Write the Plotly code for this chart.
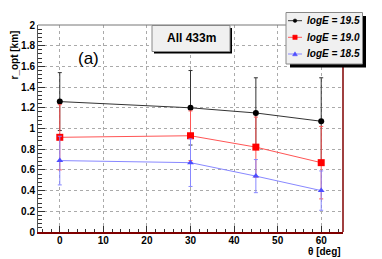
import plotly.graph_objects as go

theta = [0, 30, 45, 60]
r195 = [1.26, 1.20, 1.15, 1.07]
e195 = [0.28, 0.36, 0.34, 0.42]
r190 = [0.915, 0.93, 0.82, 0.67]
e190 = [0.315, 0.24, 0.29, 0.35]
r185 = [0.69, 0.67, 0.54, 0.40]
e185 = [0.235, 0.23, 0.16, 0.19]
names = ["logE = 19.5", "logE = 19.0", "logE = 18.5"]

FONT = "Liberation Sans, Arial, Helvetica, sans-serif"

fig = go.Figure()
series = [
    (r195, e195, names[0], "#000000", "#333333", "circle", 6),
    (r190, e190, names[1], "#ff0000", "#ff5555", "square", 7),
    (r185, e185, names[2], "#4d4dff", "#8888ff", "triangle-up", 6),
]
for y, e, n, mc, lc, sym, sz in series:
    fig.add_trace(go.Scatter(
        x=theta, y=y, name=n, mode="lines+markers",
        line=dict(color=lc, width=1),
        marker=dict(color=mc, symbol=sym, size=sz),
        error_y=dict(type="data", array=e, visible=True, color=lc, thickness=1, width=2),
        showlegend=False,
    ))

# page body has an 8px margin: lay the figure out in screen pixels minus that offset
OFF = 8
W, H = 382 - OFF, 259 - OFF
L, R, T, B = 38 - OFF, 343 - OFF, 25 - OFF, 232 - OFF
pw, ph = R - L, B - T

def px(xs):
    return (xs - OFF - L) / pw

def py(ys):
    return (B - (ys - OFF)) / ph

axis_common = dict(
    showline=True, ticks="inside", showgrid=True,
    gridcolor="#aaaaaa", griddash="dot", gridwidth=1,
    zeroline=False, tickcolor="#333333",
    tickfont=dict(family=FONT, size=10, color="#000000", weight="bold"),
)
fig.update_xaxes(range=[-5, 65], dtick=10, tick0=0, ticklen=6,
                 linecolor="#800000", linewidth=1.5, ticklabelstandoff=-2,
                 minor=dict(dtick=2, ticks="inside", ticklen=3, tickcolor="#333333", showgrid=False),
                 **axis_common)
fig.update_yaxes(range=[0, 2], dtick=0.2, tick0=0, ticklen=7,
                 linecolor="#555555", linewidth=1,
                 minor=dict(dtick=0.04, ticks="inside", ticklen=4, tickcolor="#333333", showgrid=False),
                 **axis_common)

shapes = [
    dict(type="line", xref="paper", yref="paper", x0=1, x1=1, y0=0, y1=1,
         line=dict(color="#800000", width=1.5)),
    dict(type="line", xref="paper", yref="paper", x0=0, x1=1, y0=1, y1=1,
         line=dict(color="#777777", width=1)),
    # "All 433m" box with shadow
    dict(type="rect", xref="paper", yref="paper", layer="above",
         x0=px(154), x1=px(232), y0=py(28), y1=py(53.5),
         fillcolor="#000000", line=dict(width=0)),
    dict(type="rect", xref="paper", yref="paper", layer="above",
         x0=px(152), x1=px(230), y0=py(25.5), y1=py(51.5),
         fillcolor="#f0f0f0", line=dict(color="#888888", width=1)),
    # legend box with shadow
    dict(type="rect", xref="paper", yref="paper", layer="above",
         x0=px(290), x1=px(366), y0=py(16), y1=py(67.5),
         fillcolor="#000000", line=dict(width=0)),
    dict(type="rect", xref="paper", yref="paper", layer="above",
         x0=px(286), x1=px(362.5), y0=py(12.5), y1=py(64),
         fillcolor="#f0f0f0", line=dict(color="#888888", width=1)),
]

annotations = [
    dict(text="All 433m", xref="paper", yref="paper", x=px(191), y=py(38.5),
         xanchor="center", yanchor="middle", showarrow=False,
         font=dict(family=FONT, size=12, color="#000000", weight="bold")),
    dict(text="(a)", xref="paper", yref="paper", x=px(88.5), y=py(58.5),
         xanchor="center", yanchor="middle", showarrow=False,
         font=dict(family=FONT, size=17, color="#000000")),
    dict(text="r_opt [km]", xref="paper", yref="paper", x=px(14), y=py(28),
         xanchor="center", yanchor="top", textangle=-90, showarrow=False,
         font=dict(family=FONT, size=10, color="#000000", weight="bold")),
    dict(text="θ [deg]", xref="paper", yref="paper", x=1.0, y=py(251),
         xanchor="right", yanchor="middle", showarrow=False,
         font=dict(family=FONT, size=10, color="#000000", weight="bold")),
]

# legend entries (symbol + label)
rows_y = [20.7, 37.3, 54.0]
for (y, e, n, mc, lc, sym, sz), ry in zip(series, rows_y):
    shapes.append(dict(type="line", xref="paper", yref="paper", layer="above",
                       x0=px(288), x1=px(302), y0=py(ry), y1=py(ry),
                       line=dict(color=lc, width=1)))
    if sym == "circle":
        shapes.append(dict(type="circle", xref="paper", yref="paper", layer="above",
                           x0=px(293.2), x1=px(296.8), y0=py(ry - 1.8), y1=py(ry + 1.8),
                           fillcolor=mc, line=dict(color=mc, width=0.5)))
    elif sym == "square":
        shapes.append(dict(type="rect", xref="paper", yref="paper", layer="above",
                           x0=px(292.8), x1=px(297.2), y0=py(ry - 2.2), y1=py(ry + 2.2),
                           fillcolor=mc, line=dict(color=mc, width=0.5)))
    else:
        path = "M {:.5f},{:.5f} L {:.5f},{:.5f} L {:.5f},{:.5f} Z".format(
            px(295), py(ry - 2.2), px(292.6), py(ry + 1.8), px(297.4), py(ry + 1.8))
        shapes.append(dict(type="path", xref="paper", yref="paper", layer="above",
                           path=path, fillcolor=mc, line=dict(color=mc, width=0.5)))
    annotations.append(dict(text=n, xref="paper", yref="paper", x=px(305), y=py(ry),
                            xanchor="left", yanchor="middle", showarrow=False,
                            font=dict(family=FONT, size=10, color="#000000",
                                      weight="bold", style="italic")))

fig.update_layout(
    width=W, height=H,
    margin=dict(l=L, r=W - R, t=T, b=H - B, autoexpand=False),
    paper_bgcolor="#ffffff", plot_bgcolor="#ffffff",
    shapes=shapes, annotations=annotations,
    showlegend=False,
)

fig.write_html("out.html")
